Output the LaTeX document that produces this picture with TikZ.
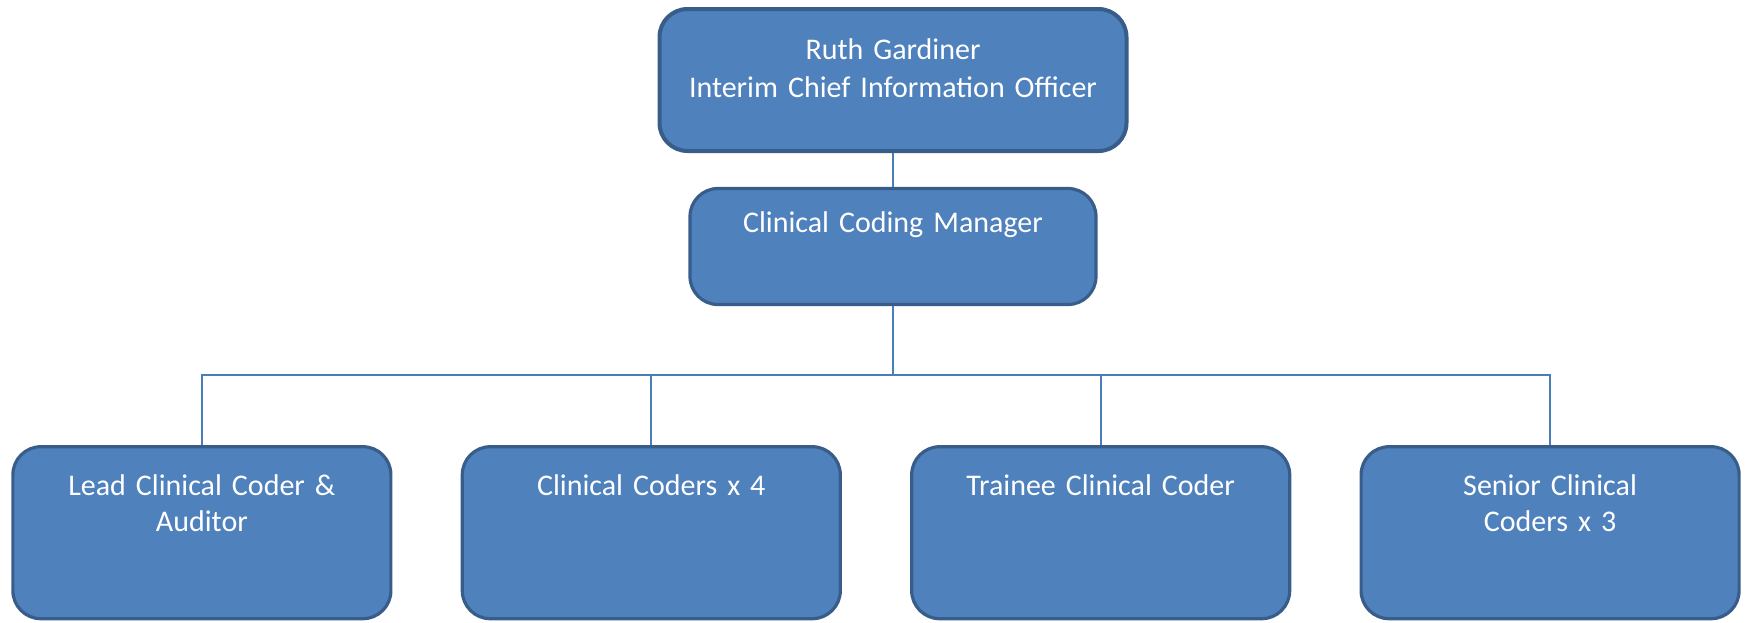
\documentclass[tikz,border=0pt]{standalone}
\usepackage{fontspec}
\setmainfont{Carlito}
\usetikzlibrary{trees}
\definecolor{boxblue}{HTML}{4F81BD}
\definecolor{boxedge}{HTML}{385D8A}
\definecolor{linkblue}{HTML}{4A7EBB}

\begin{document}
\begin{tikzpicture}[
  every node/.style = {
    shape=rectangle,
    rounded corners=14pt,
    draw=boxedge,
    line width=1.6pt,
    fill=boxblue,
    text=white,
    align=center,
    inner sep=0pt,
    font=\fontsize{15}{18}\selectfont
  },
  topbox/.style = {text width=233.5pt, text height=25pt, text depth=46pt,
    line width=2pt, font=\fontsize{15}{19}\selectfont},
  mgrbox/.style = {text width=203pt, text height=22pt, text depth=36pt},
  coderbox/.style = {text width=189pt, text height=24.5pt, text depth=61.5pt,
    xshift=-8.5pt},
  edge from parent/.style = {draw=linkblue, line width=0.9pt},
  level 1/.style = {level distance=83.25pt},
  level 2/.style = {
    level distance=143.1pt,
    sibling distance=224.7pt,
    edge from parent path={(\tikzparentnode.south) -- ++(0,-34.25pt)
      -| (\tikzchildnode.north)}
  }
]

\useasboundingbox (-446.5pt,40pt) rectangle (427.5pt,-271pt);

\node[topbox] (cio) {Ruth Gardiner\\Interim Chief Information Officer}
    child { node[mgrbox] (manager) {Clinical Coding Manager}
        child { node[coderbox] (lead) {Lead Clinical Coder \&\\Auditor} }
        child { node[coderbox] (coders) {Clinical Coders x 4} }
        child { node[coderbox] (trainee) {Trainee Clinical Coder} }
        child { node[coderbox] (senior) {Senior Clinical\\Coders x 3} }
    };

\end{tikzpicture}
\end{document}
